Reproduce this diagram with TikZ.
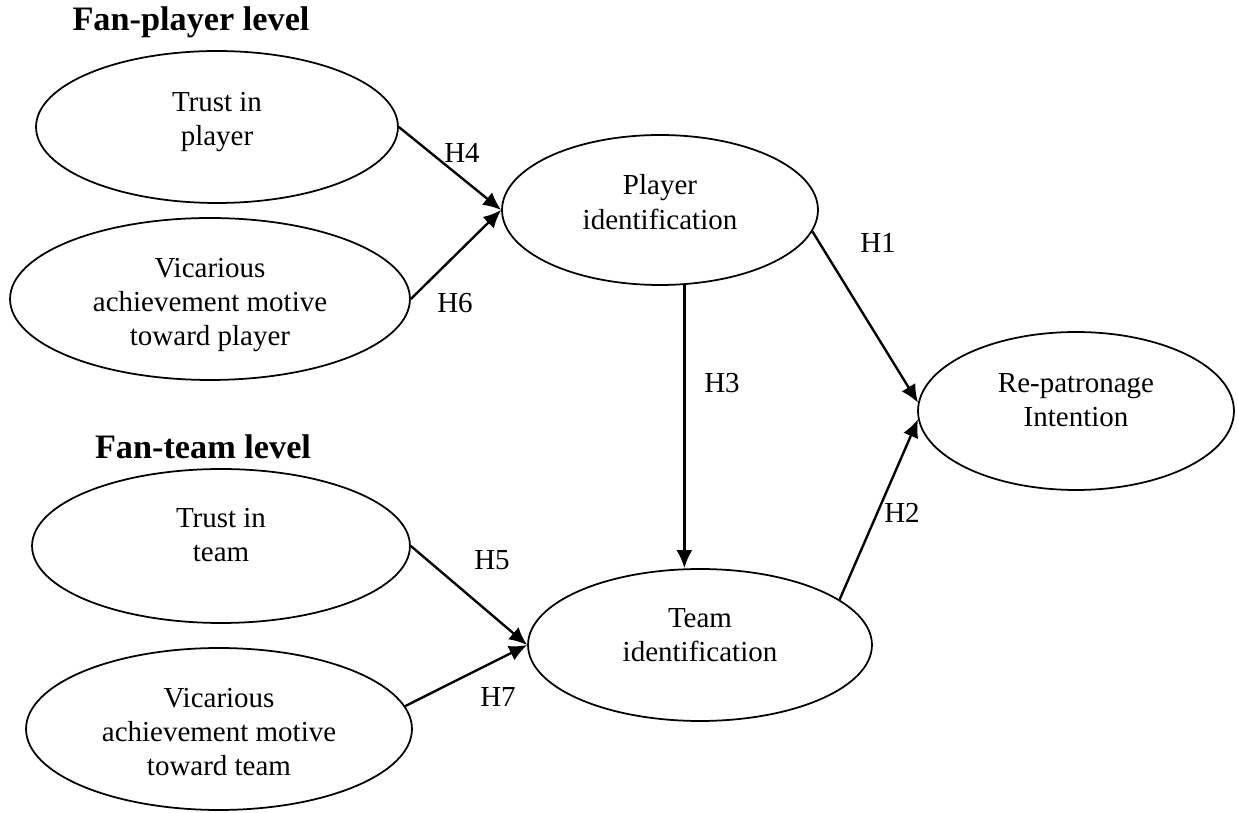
\documentclass[tikz,border=0pt]{standalone}
\usepackage{fontspec}
\setmainfont{Liberation Serif}
\usetikzlibrary{arrows.meta,shapes.geometric}

\tikzset{
  construct/.style={draw, ellipse, line width=1pt, inner sep=0pt},
  ctext/.style={align=center, font=\fontsize{16.5}{19.5}\selectfont},
  hyp/.style={-{Latex[length=0.36cm,width=0.32cm]}, line width=1.35pt},
  hlabel/.style={font=\fontsize{16.5}{19.5}\selectfont},
  levellabel/.style={font=\fontsize{19.5}{22}\selectfont\bfseries}
}

\begin{document}
\begin{tikzpicture}[x=0.02cm, y=-0.02cm]
    \useasboundingbox (0,0) rectangle (1238,813);

    % levels
    \node [levellabel] (lvplayer) at (191,22) {Fan-player level};
    \node [levellabel] (lvteam) at (203,447) {Fan-team level};

    % constructs
    \node [construct, minimum width=7.24cm, minimum height=3.04cm,
      label={[ctext, yshift=0.1cm]center:{Trust in\\player}}] (tp) at (217,127) {};
    \node [construct, minimum width=8.0cm, minimum height=3.24cm,
      label={[ctext, yshift=-0.12cm]center:{Vicarious\\achievement motive\\toward player}}] (vp) at (210,299) {};
    \node [construct, minimum width=6.32cm, minimum height=3.0cm,
      label={[ctext, yshift=0.16cm]center:{Player\\identification}}] (pid) at (660,210) {};
    \node [construct, minimum width=6.32cm, minimum height=3.16cm,
      label={[ctext, yshift=0.22cm]center:{Re-patronage\\Intention}}] (rp) at (1076,411) {};
    \node [construct, minimum width=7.56cm, minimum height=3.08cm,
      label={[ctext, yshift=0.22cm]center:{Trust in\\team}}] (tt) at (221,546) {};
    \node [construct, minimum width=7.72cm, minimum height=3.24cm,
      label={[ctext, yshift=-0.06cm]center:{Vicarious\\achievement motive\\toward team}}] (vt) at (219,729) {};
    \node [construct, minimum width=6.88cm, minimum height=3.04cm,
      label={[ctext, yshift=0.2cm]center:{Team\\identification}}] (ti) at (700,645) {};

    % hypotheses
    \draw [hyp] (tp.east) -- (pid.west);
    \draw [hyp] (vp.east) -- (pid.west);
    \draw [hyp] (tt.east) -- (ti.west);
    \draw [hyp] (vt.7) -- (ti.west);
    \draw [hyp] (pid.-72.5) -- (pid.-72.5 |- ti.north);
    \draw [hyp] (pid.-8) -- (rp.177);
    \draw [hyp] (ti.18) -- (rp.183);

    \node [hlabel] (h4) at (462,153) {H4};
    \node [hlabel] (h6) at (455,303) {H6};
    \node [hlabel] (h3) at (722,383) {H3};
    \node [hlabel] (h1) at (878,243) {H1};
    \node [hlabel] (h2) at (902,513) {H2};
    \node [hlabel] (h5) at (492,560) {H5};
    \node [hlabel] (h7) at (498,697) {H7};
\end{tikzpicture}
\end{document}
